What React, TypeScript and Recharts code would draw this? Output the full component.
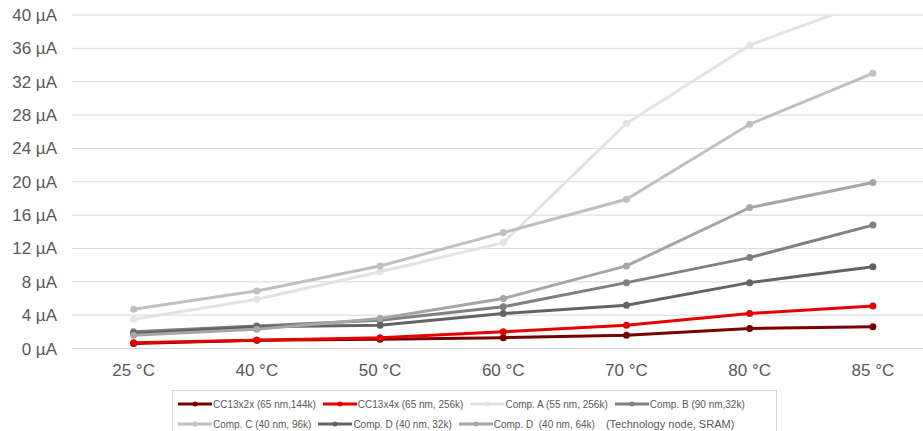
import { CartesianGrid, Line, LineChart, XAxis, YAxis } from "recharts";

const temps = ["25 °C", "40 °C", "50 °C", "60 °C", "70 °C", "80 °C", "85 °C"];
const yTicks = [0, 4, 8, 12, 16, 20, 24, 28, 32, 36, 40];

const cc13x2x = [0.6, 1.0, 1.1, 1.3, 1.6, 2.4, 2.6];
const cc13x4x = [0.7, 1.0, 1.3, 2.0, 2.8, 4.2, 5.1];
const compA = [3.5, 5.9, 9.2, 12.7, 27.0, 36.4, 41.8];
const compB = [2.0, 2.7, 3.4, 5.0, 7.9, 10.9, 14.8];
const compC = [4.7, 6.9, 9.9, 13.9, 17.9, 26.9, 33.0];
const compD32 = [1.8, 2.6, 2.8, 4.2, 5.2, 7.9, 9.8];
const compD64 = [1.6, 2.3, 3.6, 6.0, 9.9, 16.9, 19.9];

interface Series {
  key: string;
  label: string;
  color: string;
  values: number[];
}

const series: Series[] = [
  { key: "cc13x2x", label: "CC13x2x (65 nm,144k)", color: "#7a0000", values: cc13x2x },
  { key: "cc13x4x", label: "CC13x4x (65 nm, 256k)", color: "#e60000", values: cc13x4x },
  { key: "compA", label: "Comp. A (55 nm, 256k)", color: "#e3e3e3", values: compA },
  { key: "compB", label: "Comp. B (90 nm,32k)", color: "#808080", values: compB },
  { key: "compC", label: "Comp. C (40 nm, 96k)", color: "#c0c0c0", values: compC },
  { key: "compD32", label: "Comp. D (40 nm, 32k)", color: "#636363", values: compD32 },
  { key: "compD64", label: "Comp. D  (40 nm, 64k)", color: "#a6a6a6", values: compD64 },
];

const data = temps.map((t, i) => {
  const row: Record<string, number | string> = { temp: t };
  series.forEach((s) => (row[s.key] = s.values[i]));
  return row;
});

const font = "'Liberation Sans', Arial, sans-serif";
const textColor = "#595959";

function LegendItem({ s }: { s: Series }) {
  return (
    <div style={{ display: "flex", alignItems: "center", gap: 1 }}>
      <svg width={34} height={10}>
        <line x1={0} y1={5} x2={34} y2={5} stroke={s.color} strokeWidth={3} />
        <circle cx={17} cy={5} r={2.5} fill={s.color} />
      </svg>
      <span style={{ whiteSpace: "pre" }}>{s.label}</span>
    </div>
  );
}

function ChartLegend() {
  const rows = [series.slice(0, 4), series.slice(4)];
  return (
    <div
      style={{
        position: "absolute",
        left: 172,
        top: 390,
        width: 605,
        height: 44,
        border: "1px solid #d9d9d9",
        boxSizing: "border-box",
        fontFamily: font,
        fontSize: 10,
        color: textColor,
        padding: "3px 0 0 5px",
      }}
    >
      {rows.map((r, ri) => (
        <div key={ri} style={{ display: "flex", gap: 7, height: 20, alignItems: "center" }}>
          {r.map((s) => (
            <LegendItem key={s.key} s={s} />
          ))}
          {ri === 1 && <span style={{ fontSize: 11, marginLeft: 4 }}>(Technology node, SRAM)</span>}
        </div>
      ))}
    </div>
  );
}

export default function App() {
  return (
    <div style={{ position: "absolute", left: 0, top: 0, width: 923, height: 431, overflow: "hidden", background: "#fff" }}>
      <LineChart width={945} height={400} data={data} margin={{ top: 15, right: 10.5, bottom: 0, left: 0 }}>
        <CartesianGrid stroke="#d9d9d9" vertical={false} />
        <XAxis
          dataKey="temp"
          height={51.5}
          axisLine={false}
          tickLine={false}
          tickMargin={9}
          padding={{ left: 61.6, right: 61.6 }}
          tick={{ fill: textColor, fontSize: 17, fontFamily: font }}
          interval={0}
        />
        <YAxis
          width={72}
          domain={[0, 40]}
          ticks={yTicks}
          allowDataOverflow
          axisLine={false}
          tickLine={false}
          tickMargin={9}
          tickFormatter={(v) => `${v} µA`}
          tick={{ fill: textColor, fontSize: 17, fontFamily: font }}
        />
        {series.map((s) => (
          <Line
            key={s.key}
            dataKey={s.key}
            name={s.label}
            stroke={s.color}
            strokeWidth={3}
            dot={{ r: 3.5, fill: s.color, stroke: s.color, strokeWidth: 0 }}
            activeDot={false}
            isAnimationActive={false}
          />
        ))}
      </LineChart>
      <ChartLegend />
    </div>
  );
}
